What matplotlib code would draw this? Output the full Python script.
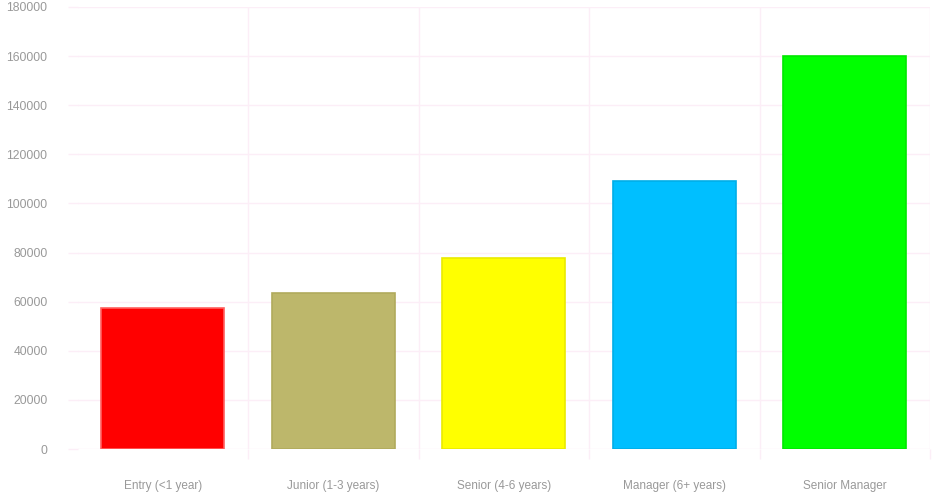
import numpy as np
import matplotlib.pyplot as plt

# salary by experience level
levels = ["Entry (<1 year)", "Junior (1-3 years)", "Senior (4-6 years)",
          "Manager (6+ years)", "Senior Manager"]
salary = [57300, 63600, 77700, 109200, 160000]
fill_colors = ["#ff0000", "#bdb76b", "#ffff00", "#00bfff", "#00ff00"]
edge_colors = ["#ff6060", "#b0aa5c", "#eaea00", "#00aee8", "#00e800"]
yticks = [0, 20000, 40000, 60000, 80000, 100000, 120000, 140000, 160000, 180000]

plt.rcParams['font.family'] = ['Liberation Sans', 'DejaVu Sans']
grid_col = "#fceef7"
text_col = "#999999"

fig = plt.figure(figsize=(9.34, 5.0), dpi=100)
ax = fig.add_axes([77.5/934, 51/500, (930-77.5)/934, 442/500])

x = np.arange(len(levels))
ax.bar(x, salary, width=0.72, color=fill_colors, edgecolor=edge_colors,
       linewidth=1.2, zorder=3)

ax.set_xlim(-0.5, len(levels) - 0.5)
ax.set_ylim(0, 180000)
ax.set_yticks(yticks)
ax.set_yticklabels([str(v) for v in yticks])
ax.set_xticks(x)
ax.set_xticklabels(levels)
ax.set_xticks(np.arange(0.5, len(levels), 1.0), minor=True)

for s in ax.spines.values():
    s.set_visible(False)

# horizontal grid with tick stubs
ax.tick_params(axis='y', length=7.2, color=grid_col, width=1, pad=14.4,
               labelsize=8.7, labelcolor=text_col)
ax.tick_params(axis='x', which='major', length=0, pad=22,
               labelsize=8.5, labelcolor=text_col)
ax.tick_params(axis='x', which='minor', length=7.2, color=grid_col, width=1)
ax.grid(axis='y', color=grid_col, linewidth=1, zorder=0)
ax.grid(axis='x', which='minor', color=grid_col, linewidth=1, zorder=0)

fig.savefig("out.png", dpi=100)
